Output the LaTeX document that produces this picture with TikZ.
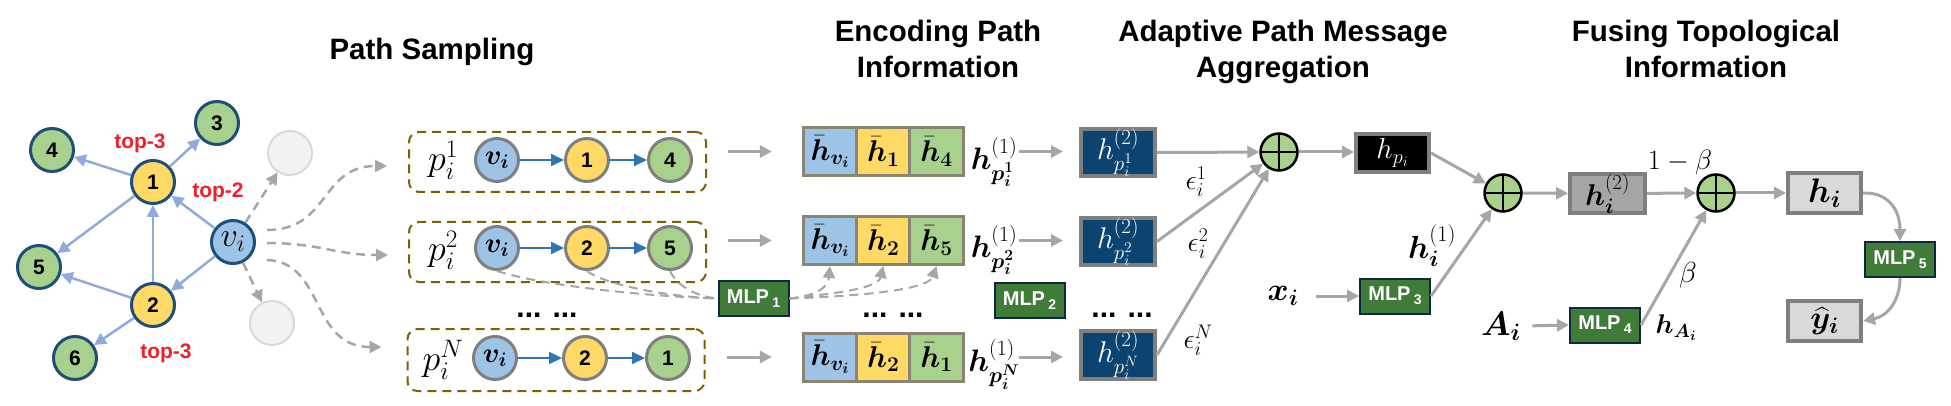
\RequirePackage{fix-cm}
\documentclass[tikz,border=0pt]{standalone}
\usepackage{amsmath,bm}
\usepackage{fontspec}
\newfontfamily\arial{Liberation Sans}
\usetikzlibrary{arrows.meta,calc}
\definecolor{gborder}{HTML}{1F4E79}
\definecolor{gfill}{HTML}{A9D18E}
\definecolor{yfill}{HTML}{FFD966}
\definecolor{bfill}{HTML}{9DC3E6}
\definecolor{ghostb}{HTML}{D9D9D9}
\definecolor{ghostf}{HTML}{F2F2F2}
\definecolor{edgeblue}{HTML}{8FAADC}
\definecolor{topred}{HTML}{F0202A}
\definecolor{pgray}{HTML}{7F7F7F}
\definecolor{pblue}{HTML}{2E75B6}
\definecolor{pbrown}{HTML}{7F6000}
\definecolor{agray}{HTML}{A6A6A6}
\definecolor{cellb}{HTML}{8C8472}
\definecolor{hblue}{HTML}{0B4470}
\definecolor{mlpb}{HTML}{0E2841}
\definecolor{mlpg}{HTML}{417B3A}
\definecolor{midgray}{HTML}{A5A5A5}
\definecolor{lgray}{HTML}{D9D9D9}
\begin{document}
\begin{tikzpicture}[x=1pt,y=-1pt,
  gnode/.style={circle,draw=gborder,line width=3pt,minimum size=43pt,inner sep=0pt,font=\arial\bfseries\fontsize{21}{24}\selectfont},
  ghost/.style={circle,draw=ghostb,fill=ghostf,line width=2pt,minimum size=44pt,inner sep=0pt},
  gedge/.style={draw=edgeblue,line width=2.5pt,-{Triangle[length=12pt,width=12pt]}},
  toplab/.style={text=topred,font=\arial\bfseries\fontsize{21}{24}\selectfont},
  pnode/.style={circle,draw=pgray,line width=3pt,minimum size=43pt,inner sep=0pt,font=\arial\bfseries\fontsize{21}{24}\selectfont},
  parrow/.style={draw=pblue,line width=2pt,-{Triangle[length=13pt,width=12pt]}},
  pbox/.style={draw=pbrown,line width=2pt,dash pattern=on 9pt off 6pt,rounded corners=10pt,minimum width=297pt,minimum height=60pt},
  garrow/.style={draw=agray,line width=3pt,-{Triangle[length=12pt,width=12pt]}},
  gdash/.style={draw=agray,line width=2.5pt,dash pattern=on 9pt off 6pt,-{Triangle[length=12pt,width=12pt]}},
  gdashn/.style={draw=agray,line width=2pt,dash pattern=on 9pt off 6pt},
  cellsty/.style={draw=cellb,line width=3pt,minimum width=53.3pt,minimum height=48pt,inner sep=0pt,font=\fontsize{30}{32}\selectfont},
  hsbox/.style={draw=pgray,fill=hblue,line width=4pt,minimum width=74pt,minimum height=41pt,inner sep=0pt,text=white,font=\fontsize{30}{32}\selectfont},
  mlp/.style={draw=mlpb,fill=mlpg,line width=2pt,minimum width=70pt,minimum height=35pt,inner sep=0pt,text=white,font=\arial\bfseries\fontsize{20}{22}\selectfont},
  oplus/.style={circle,draw=black,fill=gfill,line width=2.5pt,minimum size=37pt,inner sep=0pt,
    path picture={\draw[line width=2.5pt] (path picture bounding box.north) -- (path picture bounding box.south) (path picture bounding box.west) -- (path picture bounding box.east);}},
  dotsty/.style={font=\arial\bfseries\fontsize{30}{30}\selectfont,anchor=base},
  ttl/.style={font=\arial\bfseries\fontsize{29.5}{36}\selectfont,anchor=base},
]
\fill[white] (0,0) rectangle (1951,406);
\useasboundingbox (0,0) rectangle (1951,406);

% titles
\node[ttl] (tPS) at (432,60) {Path Sampling};
\node[ttl] (tE1) at (938,42) {Encoding Path};
\node[ttl] (tE2) at (938,78) {Information};
\node[ttl] (tA1) at (1283,42) {Adaptive Path Message};
\node[ttl] (tA2) at (1283,78) {Aggregation};
\node[ttl] (tF1) at (1706,42) {Fusing Topological};
\node[ttl] (tF2) at (1706,78) {Information};

% graph
\node[gnode,fill=gfill] (n4) at (52,150) {4};
\node[gnode,fill=gfill] (n3) at (217,123) {3};
\node[gnode,fill=yfill] (n1) at (153,182) {1};
\node[gnode,fill=bfill,font=\fontsize{34}{36}\selectfont] (vi) at (233,242) {$v_i$};
\node[gnode,fill=gfill] (n5) at (39,267) {5};
\node[gnode,fill=yfill] (n2) at (153,305) {2};
\node[gnode,fill=gfill] (n6) at (75,358) {6};
\node[ghost] (g1) at (290,153) {};
\node[ghost] (g2) at (272,323) {};
\draw[gedge] (n1) -- (n4);
\draw[gedge] (n1) -- (n3);
\draw[gedge] (n1) -- (n5);
\draw[gedge] (n2) -- (n1);
\draw[gedge] (n2) -- (n5);
\draw[gedge] (n2) -- (n6);
\draw[gedge] (vi) -- (n1);
\draw[gedge] (vi) -- (n2);
\draw[gdash] (vi) -- (g1);
\draw[gdash] (vi) -- (g2);
\node[toplab] (t1) at (140,143) {top-3};
\node[toplab] (t2) at (218,192) {top-2};
\node[toplab] (t3) at (166,353) {top-3};

% path boxes
\node[pbox] (pb1) at (557.5,162) {};
\node[pbox] (pb2) at (557.5,252) {};
\node[pbox,minimum height=62pt] (pb3) at (556,360) {};
\draw[gdash] ([shift={(11,-12)}]vi.east) .. controls (330,230) and (320,166) .. ([shift={(-21,4)}]pb1.west);
\draw[gdash] ([shift={(11,1)}]vi.east) .. controls (320,243) and (335,255) .. ([shift={(-20,3)}]pb2.west);
\draw[gdash] ([shift={(11,18)}]vi.east) .. controls (325,262) and (310,347) .. ([shift={(-25,-13)}]pb3.west);

\node[font=\fontsize{36}{38}\selectfont] (pl1) at (443,160) {$p_i^1$};
\node[font=\fontsize{36}{38}\selectfont] (pl2) at (443,250) {$p_i^2$};
\node[font=\fontsize{36}{38}\selectfont] (pl3) at (443,360) {$p_i^N$};
\node[pnode,fill=bfill,font=\fontsize{28}{30}\selectfont] (p11) at (497,160) {$\bm v_{\bm i}$};
\node[pnode,fill=yfill] (p12) at (587,160) {1};
\node[pnode,fill=gfill] (p13) at (670,160) {4};
\node[pnode,fill=bfill,font=\fontsize{28}{30}\selectfont] (p21) at (497,248) {$\bm v_{\bm i}$};
\node[pnode,fill=yfill] (p22) at (587,248) {2};
\node[pnode,fill=gfill] (p23) at (670,248) {5};
\node[pnode,fill=bfill,font=\fontsize{28}{30}\selectfont] (p31) at (495,358) {$\bm v_{\bm i}$};
\node[pnode,fill=yfill] (p32) at (585,358) {2};
\node[pnode,fill=gfill] (p33) at (668,358) {1};
\draw[parrow] (p11) -- (p12);
\draw[parrow] (p12) -- (p13);
\draw[parrow] (p21) -- (p22);
\draw[parrow] (p22) -- (p23);
\draw[parrow] (p31) -- (p32);
\draw[parrow] (p32) -- (p33);
\node[dotsty] (d1) at (547,317) {... ...};

% encoding cells
\node[cellsty,fill=bfill] (c11) at (830,151.5) {$\bar{\bm h}_{\bm v_{\bm i}}$};
\node[cellsty,fill=yfill] (c12) at (883.3,151.5) {$\bar{\bm h}_{\bm 1}$};
\node[cellsty,fill=gfill] (c13) at (936.6,151.5) {$\bar{\bm h}_{\bm 4}$};
\node[cellsty,fill=bfill] (c21) at (830,240.5) {$\bar{\bm h}_{\bm v_{\bm i}}$};
\node[cellsty,fill=yfill] (c22) at (883.3,240.5) {$\bar{\bm h}_{\bm 2}$};
\node[cellsty,fill=gfill] (c23) at (936.6,240.5) {$\bar{\bm h}_{\bm 5}$};
\node[cellsty,fill=bfill] (c31) at (830,357) {$\bar{\bm h}_{\bm v_{\bm i}}$};
\node[cellsty,fill=yfill] (c32) at (883.3,357) {$\bar{\bm h}_{\bm 2}$};
\node[cellsty,fill=gfill] (c33) at (936.6,357) {$\bar{\bm h}_{\bm 1}$};
\node[dotsty] (d2) at (893,317) {... ...};

\draw[garrow,shorten <=21pt,shorten >=30pt] (c11.west -| pb1.east) -- (c11.west);
\draw[garrow,shorten <=21pt,shorten >=30pt] (c21.west -| pb2.east) -- (c21.west);
\draw[garrow,shorten <=21pt,shorten >=30pt] (c31.west -| pb3.east) -- (c31.west);

% MLP1 and its dashed links
\node[mlp] (mlp1) at (753.5,298.5) {MLP\,{\fontsize{14}{14}\selectfont\raisebox{-4pt}{1}}};
\draw[gdashn] (p21.south) .. controls (540,285) and (640,296) .. (mlp1.west);
\draw[gdashn] (p22.south) .. controls (605,285) and (670,297) .. (mlp1.west);
\draw[gdashn] (p23.south) .. controls (678,288) and (700,297) .. (mlp1.west);
\draw[gdash,line width=2pt] (mlp1.east) .. controls (815,296) and (828,288) .. (c21.south);
\draw[gdash,line width=2pt] (mlp1.east) .. controls (840,293) and (878,288) .. (c22.south);
\draw[gdash,line width=2pt] (mlp1.east) .. controls (860,296) and (928,290) .. (c23.south);

% h(1) labels and h(2) boxes
\node[font=\fontsize{31}{33}\selectfont] (hl1) at (994,162) {$\bm h^{(1)}_{\bm p_{\bm i}^{\bm 1}}$};
\node[font=\fontsize{31}{33}\selectfont] (hl2) at (994,250) {$\bm h^{(1)}_{\bm p_{\bm i}^{\bm 2}}$};
\node[font=\fontsize{31}{33}\selectfont] (hl3) at (994,364) {$\bm h^{(1)}_{\bm p_{\bm i}^{\bm N}}$};
\node[hsbox] (h2b1) at (1118,152.5) {$h^{(2)}_{p_i^1}$};
\node[hsbox] (h2b2) at (1118,241.5) {$h^{(2)}_{p_i^2}$};
\node[hsbox] (h2b3) at (1118,355) {$h^{(2)}_{p_i^N}$};
\draw[garrow,shorten <=54pt,shorten >=16pt] (c13.east) -- (c13.east -| h2b1.west);
\draw[garrow,shorten <=54pt,shorten >=16pt] (c23.east) -- (c23.east -| h2b2.west);
\draw[garrow,shorten <=54pt,shorten >=16pt] (c33.east) -- (c33.east -| h2b3.west);
\node[mlp] (mlp2) at (1029.5,300.5) {MLP\,{\fontsize{14}{14}\selectfont\raisebox{-4pt}{2}}};
\node[dotsty] (d3) at (1122,317) {... ...};

% aggregation
\node[oplus] (op1) at (1279,152) {};
\draw[garrow] (h2b1.east) -- (op1);
\draw[garrow] (h2b2.east) -- (op1);
\draw[garrow] (h2b3.east) -- (op1);
\node[font=\fontsize{28}{30}\selectfont] (e1) at (1196,182) {$\epsilon_i^1$};
\node[font=\fontsize{28}{30}\selectfont] (e2) at (1198,244) {$\epsilon_i^2$};
\node[font=\fontsize{28}{30}\selectfont] (e3) at (1198,340) {$\epsilon_i^N$};
\node[draw=pgray,fill=black,line width=4pt,minimum width=73pt,minimum height=38pt,inner sep=0pt,text=white,font=\fontsize{29}{31}\selectfont] (hpi) at (1392.5,153) {$h_{p_i}$};
\draw[garrow] (op1) -- (op1 -| hpi.west);
\node[oplus] (op2) at (1503,193) {};
\draw[garrow] (hpi.east) -- (op2);
\node[font=\fontsize{32}{34}\selectfont] (xi) at (1283,296) {$\bm x_{\bm i}$};
\node[mlp] (mlp3) at (1395,296) {MLP\,{\fontsize{14}{14}\selectfont\raisebox{-4pt}{3}}};
\draw[garrow,shorten <=14pt] (xi.east) -- (mlp3.west);
\draw[garrow] (mlp3.east) -- (op2);
\node[font=\fontsize{32}{34}\selectfont] (hi1) at (1432,246) {$\bm h_{\bm i}^{(1)}$};

% fusion
\node[draw=pgray,fill=midgray,line width=4pt,minimum width=75pt,minimum height=39pt,inner sep=0pt,font=\fontsize{30}{32}\selectfont] (h2i) at (1607.5,193.5) {$\bm h_{\bm i}^{(2)}$};
\draw[garrow] (op2) -- (h2i);
\node[oplus] (op3) at (1716,193) {};
\draw[garrow] (h2i) -- (op3);
\node[font=\fontsize{28}{30}\selectfont] (omb) at (1680,163) {$1-\beta$};
\node[font=\fontsize{34}{36}\selectfont] (Ai) at (1501,326) {$\bm A_{\bm i}$};
\node[mlp] (mlp4) at (1605,325) {MLP\,{\fontsize{14}{14}\selectfont\raisebox{-4pt}{4}}};
\draw[garrow,shorten <=8pt] (Ai.east) -- (mlp4.west);
\draw[garrow] (mlp4.east) -- (op3);
\node[font=\fontsize{29}{31}\selectfont] (bt) at (1688,275) {$\beta$};
\node[font=\fontsize{27}{29}\selectfont] (hAi) at (1676,328) {$\bm h_{\bm A_{\bm i}}$};
\node[draw=pgray,fill=lgray,line width=4pt,minimum width=73pt,minimum height=40pt,inner sep=0pt,font=\fontsize{34}{36}\selectfont] (hi) at (1824.5,193) {$\bm h_{\bm i}$};
\draw[garrow] (op3) -- (hi);
\node[mlp] (mlp5) at (1900,259.5) {MLP\,{\fontsize{14}{14}\selectfont\raisebox{-4pt}{5}}};
\node[draw=pgray,fill=lgray,line width=4pt,minimum width=73pt,minimum height=40pt,inner sep=0pt,font=\fontsize{32}{34}\selectfont] (yh) at (1824.5,321) {$\widehat{\bm y}_{\bm i}$};
\draw[garrow] (hi.east) .. controls (1890,192) and (1900,212) .. (mlp5.north);
\draw[garrow] (mlp5.south) .. controls (1900,300) and (1888,316) .. (yh.east);
\end{tikzpicture}
\end{document}
